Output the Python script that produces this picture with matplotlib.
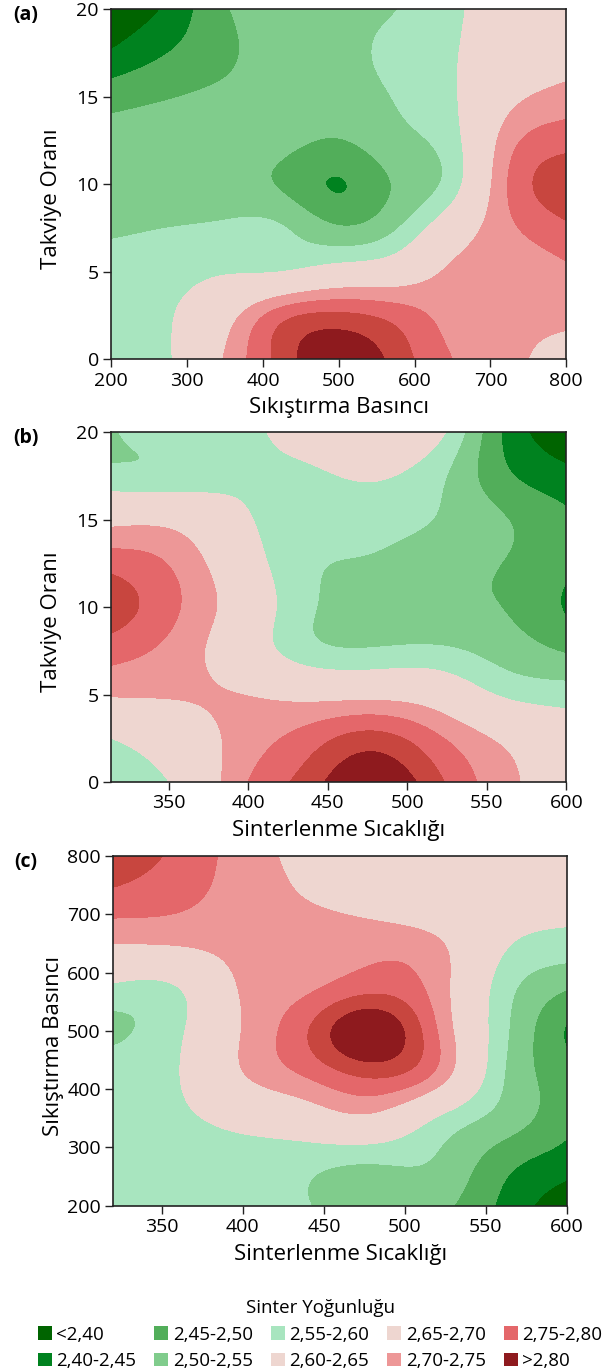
import numpy as np
import matplotlib
matplotlib.use('Agg')
import matplotlib.pyplot as plt
from matplotlib.patches import Patch

plt.rcParams['font.family'] = ['Open Sans', 'DejaVu Sans']

# ---------------- data ----------------
# panel (a): x = Sıkıştırma Basıncı, y = Takviye Oranı
a_x = [200, 275, 350, 425, 500, 575, 650, 725, 800]
a_y = [0, 2.5, 5, 7.5, 10, 12.5, 15, 17.5, 20]
a_z = [
    [2.575, 2.595, 2.705, 2.82, 2.90, 2.83, 2.75, 2.71, 2.68],
    [2.575, 2.595, 2.67, 2.78, 2.81, 2.78, 2.73, 2.71, 2.71],
    [2.575, 2.58, 2.595, 2.60, 2.63, 2.65, 2.71, 2.72, 2.74],
    [2.54, 2.55, 2.557, 2.553, 2.505, 2.545, 2.65, 2.74, 2.79],
    [2.52, 2.52, 2.52, 2.493, 2.447, 2.505, 2.575, 2.755, 2.83],
    [2.515, 2.52, 2.52, 2.515, 2.497, 2.535, 2.58, 2.73, 2.78],
    [2.48, 2.497, 2.51, 2.52, 2.53, 2.552, 2.593, 2.68, 2.72],
    [2.405, 2.45, 2.49, 2.525, 2.54, 2.56, 2.595, 2.64, 2.67],
    [2.36, 2.41, 2.495, 2.52, 2.54, 2.549, 2.59, 2.63, 2.66],
]

# panel (b): x = Sinterlenme Sıcaklığı, y = Takviye Oranı
b_x = [314, 355, 396, 436, 477, 518, 559, 600]
b_y = [0, 2.5, 5, 7.5, 10, 12.5, 15, 17.5, 20]
b_z = [
    [2.57, 2.61, 2.74, 2.82, 2.90, 2.815, 2.72, 2.66],
    [2.60, 2.65, 2.72, 2.77, 2.82, 2.76, 2.69, 2.64],
    [2.705, 2.705, 2.70, 2.68, 2.68, 2.66, 2.595, 2.575],
    [2.77, 2.73, 2.65, 2.57, 2.555, 2.56, 2.53, 2.495],
    [2.83, 2.755, 2.66, 2.56, 2.53, 2.51, 2.50, 2.445],
    [2.78, 2.74, 2.64, 2.56, 2.545, 2.52, 2.50, 2.46],
    [2.68, 2.675, 2.61, 2.575, 2.57, 2.548, 2.505, 2.46],
    [2.565, 2.567, 2.59, 2.592, 2.605, 2.565, 2.465, 2.415],
    [2.545, 2.58, 2.59, 2.62, 2.645, 2.62, 2.45, 2.36],
]

# panel (c): x = Sinterlenme Sıcaklığı, y = Sıkıştırma Basıncı
c_x = [320, 360, 399, 439, 478, 519, 560, 600]
c_y = [200, 275, 350, 425, 500, 575, 650, 725, 800]
c_z = [
    [2.575, 2.575, 2.57, 2.552, 2.53, 2.515, 2.44, 2.36],
    [2.575, 2.58, 2.58, 2.565, 2.553, 2.545, 2.47, 2.425],
    [2.58, 2.59, 2.62, 2.655, 2.685, 2.598, 2.53, 2.465],
    [2.58, 2.598, 2.695, 2.755, 2.81, 2.74, 2.555, 2.47],
    [2.54, 2.59, 2.70, 2.795, 2.90, 2.755, 2.565, 2.445],
    [2.59, 2.60, 2.705, 2.74, 2.78, 2.73, 2.575, 2.505],
    [2.70, 2.705, 2.72, 2.73, 2.735, 2.71, 2.61, 2.58],
    [2.78, 2.76, 2.73, 2.70, 2.67, 2.64, 2.63, 2.62],
    [2.85, 2.785, 2.73, 2.68, 2.65, 2.64, 2.64, 2.63],
]

levels = [2.0, 2.40, 2.45, 2.50, 2.55, 2.60, 2.65, 2.70, 2.75, 2.80, 2.85, 3.3]
band_colors = ['#006400', '#00821f', '#52ae5a', '#80cc8c', '#a8e5bf',
               '#eed6d0', '#eed6d0', '#ed9797', '#e4676a', '#c8463f', '#8e1a1e']

legend_labels = ['<2,40', '2,40-2,45', '2,45-2,50', '2,50-2,55', '2,55-2,60',
                 '2,60-2,65', '2,65-2,70', '2,70-2,75', '2,75-2,80', '>2,80']
legend_colors = ['#006400', '#00821f', '#52ae5a', '#80cc8c', '#a8e5bf',
                 '#eed6d0', '#eed6d0', '#ed9797', '#e4676a', '#8e1a1e']


def spline_matrix(knots, t):
    """Natural cubic spline resampling matrix (len(t) x len(knots))."""
    k = np.asarray(knots, float)
    n = len(k)
    h = np.diff(k)
    A = np.zeros((n, n))
    B = np.zeros((n, n))
    A[0, 0] = A[-1, -1] = 1.0
    for i in range(1, n - 1):
        A[i, i - 1] = h[i - 1]
        A[i, i] = 2 * (h[i - 1] + h[i])
        A[i, i + 1] = h[i]
        B[i, i - 1] = 6 / h[i - 1]
        B[i, i] = -6 / h[i - 1] - 6 / h[i]
        B[i, i + 1] = 6 / h[i]
    Mm = np.linalg.solve(A, B)
    idx = np.clip(np.searchsorted(k, t) - 1, 0, n - 2)
    out = np.zeros((len(t), n))
    for r, (tt, i) in enumerate(zip(t, idx)):
        a = (k[i + 1] - tt) / h[i]
        b = (tt - k[i]) / h[i]
        out[r, i] += a
        out[r, i + 1] += b
        out[r] += ((a ** 3 - a) * Mm[i] + (b ** 3 - b) * Mm[i + 1]) * h[i] ** 2 / 6
    return out


def draw(ax, xs, ys, zs):
    xs = np.asarray(xs, float)
    ys = np.asarray(ys, float)
    Z = np.asarray(zs, float)
    xf = np.linspace(xs.min(), xs.max(), 400)
    yf = np.linspace(ys.min(), ys.max(), 400)
    Zf = spline_matrix(ys, yf) @ Z @ spline_matrix(xs, xf).T
    ax.contourf(xf, yf, Zf, levels=levels, colors=band_colors)
    ax.set_xlim(xs.min(), xs.max())
    ax.set_ylim(ys.min(), ys.max())


W, H = 614, 1371
fig = plt.figure(figsize=(W / 100, H / 100), dpi=100)


def add_axes(l, r, t, b):
    return fig.add_axes([l / W, 1 - b / H, (r - l) / W, (b - t) / H])


axA = add_axes(111.3, 566.3, 9.3, 359)
axB = add_axes(111.3, 566.3, 432.3, 782)
axC = add_axes(113.3, 567, 856, 1205.7)

draw(axA, a_x, a_y, a_z)
draw(axB, b_x, b_y, b_z)
draw(axC, c_x, c_y, c_z)

axA.set_xticks([200, 300, 400, 500, 600, 700, 800])
axA.set_yticks([0, 5, 10, 15, 20])
axB.set_xticks([350, 400, 450, 500, 550, 600])
axB.set_yticks([0, 5, 10, 15, 20])
axC.set_xticks([350, 400, 450, 500, 550, 600])
axC.set_yticks([200, 300, 400, 500, 600, 700, 800])

labels = [(axA, 'Sıkıştırma Basıncı', 'Takviye Oranı', '(a)'),
          (axB, 'Sinterlenme Sıcaklığı', 'Takviye Oranı', '(b)'),
          (axC, 'Sinterlenme Sıcaklığı', 'Sıkıştırma Basıncı', '(c)')]

for ax, xl, yl, tag in labels:
    ax.tick_params(axis='both', labelsize=14, length=6, width=1.0,
                   direction='out', pad=3.0, color='#222222')
    for sp in ax.spines.values():
        sp.set_linewidth(1.2)
        sp.set_color('#222222')
    ax.set_xlabel(xl, fontsize=16)
    ax.set_ylabel(yl, fontsize=16)
    ax.xaxis.label.set_verticalalignment('center')
    ax.yaxis.label.set_verticalalignment('center')
    ax.xaxis.set_label_coords(0.5, -0.14)
    ax.yaxis.set_label_coords(-0.1325, 0.457)
    pos = ax.get_position()
    fig.text(26 / W, pos.y1 - 6 / H, tag, ha='center', va='center',
             fontsize=14, fontweight='bold')

handles = [Patch(facecolor=c, edgecolor='none') for c in legend_colors]
leg = fig.legend(handles, legend_labels, ncol=5, loc='upper center',
                 bbox_to_anchor=(320 / W, 1 - 1290 / H), frameon=False,
                 title='Sinter Yoğunluğu', fontsize=13.5, title_fontsize=13.5,
                 handlelength=0.75, handleheight=0.75, handletextpad=0.25,
                 columnspacing=0.95, labelspacing=0.45, borderpad=0.0)
leg._legend_box.sep = 6

fig.savefig('out.png', dpi=100)
